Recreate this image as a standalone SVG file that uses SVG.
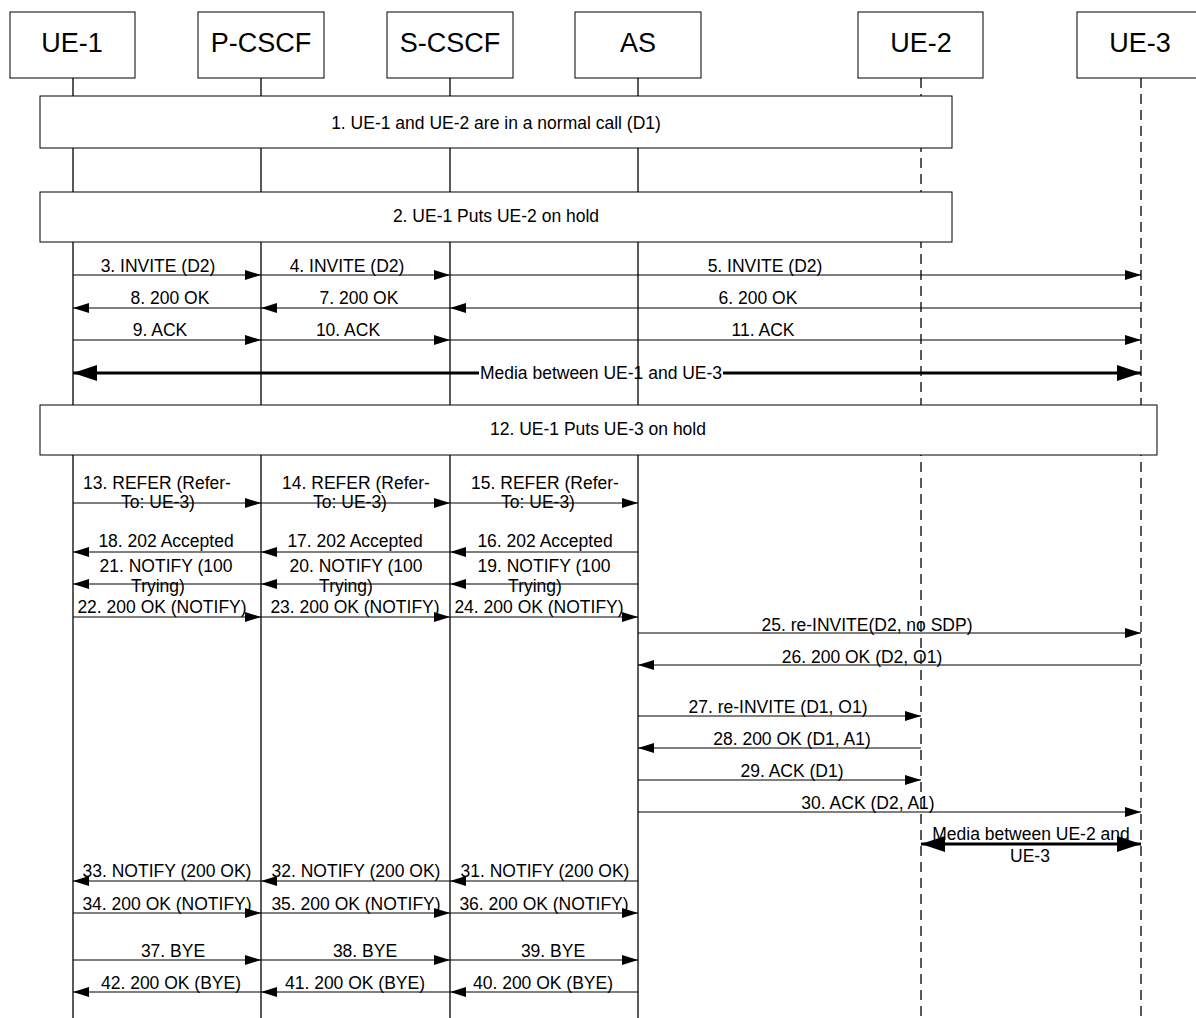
<svg xmlns="http://www.w3.org/2000/svg" width="1196" height="1018" viewBox="0 0 1196 1018">
<style>
text{font-family:"Liberation Sans",Arial,sans-serif;fill:#000}
.h{font-size:27px;text-anchor:middle}
.m{font-size:17.5px;text-anchor:middle}
.box{fill:#fff;stroke:#000;stroke-width:1}
.ll{stroke:#000;stroke-width:1.3}
.lld{stroke:#000;stroke-width:1.3;stroke-dasharray:10 6}
.msg{stroke:#000;stroke-width:1;marker-end:url(#ah)}
.med{stroke:#000;stroke-width:3}
</style>
<defs>
<marker id="ah" markerUnits="userSpaceOnUse" markerWidth="16" markerHeight="10" refX="16" refY="5" orient="auto"><path d="M0,0 L16,5 L0,10 z" fill="#000"/></marker>
<marker id="bh" markerUnits="userSpaceOnUse" markerWidth="24" markerHeight="16" refX="24" refY="8" orient="auto-start-reverse"><path d="M0,0 L24,8 L0,16 z" fill="#000"/></marker>
</defs>
<rect width="1196" height="1018" fill="#fff"/>
<g id="lifelines">
<line class="ll" x1="73" y1="78" x2="73" y2="1018"/>
<line class="ll" x1="261" y1="78" x2="261" y2="1018"/>
<line class="ll" x1="450" y1="78" x2="450" y2="1018"/>
<line class="ll" x1="638" y1="78" x2="638" y2="1018"/>
<line class="lld" x1="921" y1="78" x2="921" y2="1018"/>
<line class="lld" x1="1141" y1="78" x2="1141" y2="1018"/>
</g>
<g id="UE-1"><rect class="box" x="10" y="12" width="125" height="66"/><text class="h" x="72" y="52">UE-1</text></g>
<g id="P-CSCF"><rect class="box" x="198" y="12" width="126" height="66"/><text class="h" x="261" y="52">P-CSCF</text></g>
<g id="S-CSCF"><rect class="box" x="387" y="12" width="126" height="66"/><text class="h" x="450" y="52">S-CSCF</text></g>
<g id="AS"><rect class="box" x="575" y="12" width="126" height="66"/><text class="h" x="638" y="52">AS</text></g>
<g id="UE-2"><rect class="box" x="858" y="12" width="125" height="66"/><text class="h" x="921" y="52">UE-2</text></g>
<g id="UE-3"><rect class="box" x="1077" y="12" width="126" height="66"/><text class="h" x="1140" y="52">UE-3</text></g>
<g id="step1"><rect class="box" x="40" y="96" width="912" height="52"/><text class="m" x="496" y="129">1. UE-1 and UE-2 are in a normal call (D1)</text></g>
<g id="step2"><rect class="box" x="40" y="192" width="912" height="50"/><text class="m" x="496" y="222">2. UE-1 Puts UE-2 on hold</text></g>
<g id="step12"><rect class="box" x="40" y="405" width="1117" height="50"/><text class="m" x="598" y="435">12. UE-1 Puts UE-3 on hold</text></g>
<g id="connectors">
<line class="msg" x1="73" y1="275" x2="261" y2="275"/>
<line class="msg" x1="261" y1="275" x2="450" y2="275"/>
<line class="msg" x1="450" y1="275" x2="1141" y2="275"/>
<line class="msg" x1="261" y1="308" x2="73" y2="308"/>
<line class="msg" x1="450" y1="308" x2="261" y2="308"/>
<line class="msg" x1="1141" y1="308" x2="450" y2="308"/>
<line class="msg" x1="73" y1="340" x2="261" y2="340"/>
<line class="msg" x1="261" y1="340" x2="450" y2="340"/>
<line class="msg" x1="450" y1="340" x2="1141" y2="340"/>
<line class="med" x1="479" y1="373" x2="73" y2="373" marker-end="url(#bh)"/>
<line class="med" x1="723" y1="373" x2="1141" y2="373" marker-end="url(#bh)"/>
<line class="msg" x1="73" y1="503" x2="261" y2="503"/>
<line class="msg" x1="261" y1="503" x2="450" y2="503"/>
<line class="msg" x1="450" y1="503" x2="638" y2="503"/>
<line class="msg" x1="261" y1="552" x2="73" y2="552"/>
<line class="msg" x1="450" y1="552" x2="261" y2="552"/>
<line class="msg" x1="638" y1="552" x2="450" y2="552"/>
<line class="msg" x1="261" y1="584" x2="73" y2="584"/>
<line class="msg" x1="450" y1="584" x2="261" y2="584"/>
<line class="msg" x1="638" y1="584" x2="450" y2="584"/>
<line class="msg" x1="73" y1="617" x2="261" y2="617"/>
<line class="msg" x1="261" y1="617" x2="450" y2="617"/>
<line class="msg" x1="450" y1="617" x2="638" y2="617"/>
<line class="msg" x1="638" y1="633" x2="1141" y2="633"/>
<line class="msg" x1="1141" y1="665" x2="638" y2="665"/>
<line class="msg" x1="638" y1="716" x2="921" y2="716"/>
<line class="msg" x1="921" y1="748" x2="638" y2="748"/>
<line class="msg" x1="638" y1="780" x2="921" y2="780"/>
<line class="msg" x1="638" y1="812" x2="1141" y2="812"/>
<line class="med" x1="921" y1="844" x2="1141" y2="844" marker-start="url(#bh)" marker-end="url(#bh)"/>
<line class="msg" x1="261" y1="881" x2="73" y2="881"/>
<line class="msg" x1="450" y1="881" x2="261" y2="881"/>
<line class="msg" x1="638" y1="881" x2="450" y2="881"/>
<line class="msg" x1="73" y1="913" x2="261" y2="913"/>
<line class="msg" x1="261" y1="913" x2="450" y2="913"/>
<line class="msg" x1="450" y1="913" x2="638" y2="913"/>
<line class="msg" x1="73" y1="960" x2="261" y2="960"/>
<line class="msg" x1="261" y1="960" x2="450" y2="960"/>
<line class="msg" x1="450" y1="960" x2="638" y2="960"/>
<line class="msg" x1="261" y1="992" x2="73" y2="992"/>
<line class="msg" x1="450" y1="992" x2="261" y2="992"/>
<line class="msg" x1="638" y1="992" x2="450" y2="992"/>
</g>
<g id="labels">
<text class="m" x="158" y="272">3. INVITE (D2)</text>
<text class="m" x="347" y="272">4. INVITE (D2)</text>
<text class="m" x="765" y="272">5. INVITE (D2)</text>
<text class="m" x="170" y="304">8. 200 OK</text>
<text class="m" x="359" y="304">7. 200 OK</text>
<text class="m" x="758" y="304">6. 200 OK</text>
<text class="m" x="160" y="336">9. ACK</text>
<text class="m" x="348" y="336">10. ACK</text>
<text class="m" x="763" y="336">11. ACK</text>
<text class="m" x="601" y="379">Media between UE-1 and UE-3</text>
<text class="m" x="157" y="489">13. REFER (Refer-</text>
<text class="m" x="158" y="508">To: UE-3)</text>
<text class="m" x="356" y="489">14. REFER (Refer-</text>
<text class="m" x="350" y="508">To: UE-3)</text>
<text class="m" x="545" y="489">15. REFER (Refer-</text>
<text class="m" x="538" y="508">To: UE-3)</text>
<text class="m" x="166" y="547">18. 202 Accepted</text>
<text class="m" x="355" y="547">17. 202 Accepted</text>
<text class="m" x="545" y="547">16. 202 Accepted</text>
<text class="m" x="166" y="572">21. NOTIFY (100</text>
<text class="m" x="158" y="592">Trying)</text>
<text class="m" x="356" y="572">20. NOTIFY (100</text>
<text class="m" x="346" y="592">Trying)</text>
<text class="m" x="544" y="572">19. NOTIFY (100</text>
<text class="m" x="535" y="592">Trying)</text>
<text class="m" x="162" y="613">22. 200 OK (NOTIFY)</text>
<text class="m" x="355" y="613">23. 200 OK (NOTIFY)</text>
<text class="m" x="539" y="613">24. 200 OK (NOTIFY)</text>
<text class="m" x="867" y="631">25. re-INVITE(D2, no SDP)</text>
<text class="m" x="862" y="663">26. 200 OK (D2, O1)</text>
<text class="m" x="778" y="713">27. re-INVITE (D1, O1)</text>
<text class="m" x="792" y="745">28. 200 OK (D1, A1)</text>
<text class="m" x="792" y="777">29. ACK (D1)</text>
<text class="m" x="868" y="809">30. ACK (D2, A1)</text>
<text class="m" x="1031" y="840">Media between UE-2 and</text>
<text class="m" x="1030" y="862">UE-3</text>
<text class="m" x="167" y="877">33. NOTIFY (200 OK)</text>
<text class="m" x="356" y="877">32. NOTIFY (200 OK)</text>
<text class="m" x="545" y="877">31. NOTIFY (200 OK)</text>
<text class="m" x="167" y="910">34. 200 OK (NOTIFY)</text>
<text class="m" x="356" y="910">35. 200 OK (NOTIFY)</text>
<text class="m" x="544" y="910">36. 200 OK (NOTIFY)</text>
<text class="m" x="173" y="957">37. BYE</text>
<text class="m" x="365" y="957">38. BYE</text>
<text class="m" x="553" y="957">39. BYE</text>
<text class="m" x="171" y="989">42. 200 OK (BYE)</text>
<text class="m" x="355" y="989">41. 200 OK (BYE)</text>
<text class="m" x="543" y="989">40. 200 OK (BYE)</text>
</g>
</svg>
